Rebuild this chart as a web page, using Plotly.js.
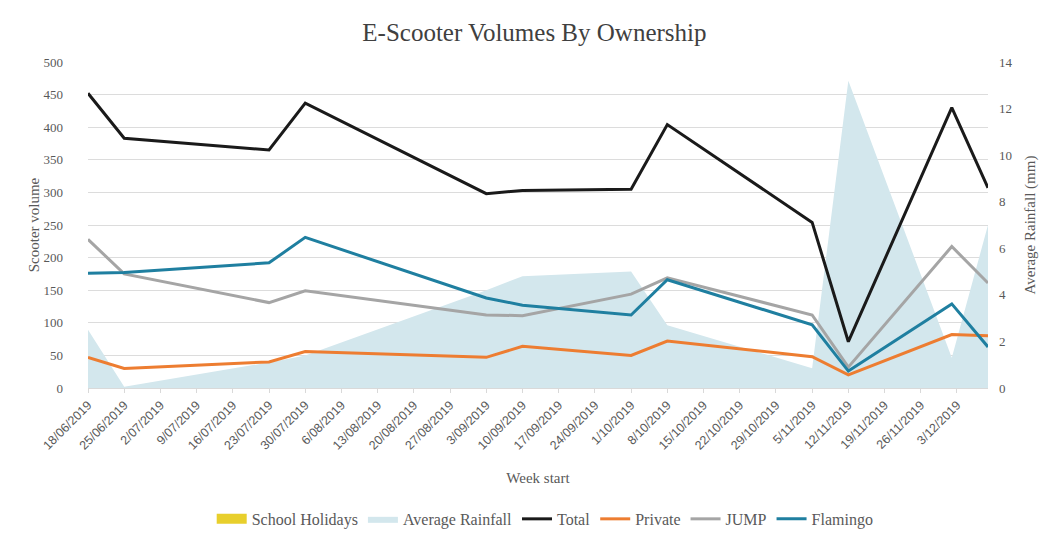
<!DOCTYPE html>
<html><head><meta charset="utf-8">
<script src="https://cdn.plot.ly/plotly-3.0.1.min.js"></script>
<style>html,body{margin:0;padding:0;background:#fff}#chart{width:1052px;height:540px}</style>
</head><body><div id="chart"></div>
<script>
const weeks = ['2019-06-18','2019-06-25','2019-07-23','2019-07-30','2019-09-03','2019-09-10','2019-10-01','2019-10-08','2019-11-05','2019-11-12','2019-12-02','2019-12-09'];
const schoolHolidays = [null,null,null,null,null,null,null,null,null,null,null,null];
const rainfall = [2.5,0.05,1.1,1.4,4.2,4.8,5.0,2.7,0.85,13.2,1.3,7.0];
const total = [452,383,365,437,298,303,305,404,254,71,430,307];
const privateV = [47,30,40,56,47,64,50,72,48,20,82,80];
const jump = [228,175,131,149,112,111,144,169,112,32,217,161];
const flamingo = [176,177,192,231,138,127,112,166,97,26,129,63];

const serif = 'Liberation Serif, DejaVu Serif, serif';
const grey = '#595959';
const traces = [
  {type:'scatter', mode:'lines', name:'School Holidays', x:weeks, y:schoolHolidays, yaxis:'y', xaxis:'x',
   line:{width:10, color:'#e8cf2c'}, hoverinfo:'skip'},
  {type:'scatter', mode:'lines', name:'Average Rainfall', x:weeks, y:rainfall, yaxis:'y', xaxis:'x',
   fill:'tozeroy', fillcolor:'#d3e7ed', line:{width:0, color:'#d3e7ed'}},
  {type:'scatter', mode:'lines', name:'Total', x:weeks, y:total, yaxis:'y2', line:{color:'#1a1a1a', width:3}},
  {type:'scatter', mode:'lines', name:'Private', x:weeks, y:privateV, yaxis:'y2', line:{color:'#ed7d31', width:3}},
  {type:'scatter', mode:'lines', name:'JUMP', x:weeks, y:jump, yaxis:'y2', line:{color:'#a5a5a5', width:3}},
  {type:'scatter', mode:'lines', name:'Flamingo', x:weeks, y:flamingo, yaxis:'y2', line:{color:'#1f7fa0', width:3}}
];
const layout = {
  width:1052, height:540, paper_bgcolor:'#fff', plot_bgcolor:'#fff',
  margin:{l:88, r:64, t:62, b:152, autoexpand:false},
  title:{text:'E-Scooter Volumes By Ownership', x:0.508, xanchor:'center', y:0.94, yanchor:'middle',
         font:{family:serif, size:25, color:'#404040'}},
  showlegend:true,
  legend:{orientation:'h', x:0.508, xanchor:'center', yref:'container', y:0.039, yanchor:'middle',
          font:{family:serif, size:16, color:grey}, traceorder:'normal', itemwidth:30},
  xaxis:{type:'date', range:['2019-06-18','2019-12-09'], tick0:'2019-06-18', dtick:7*86400000,
         tickformat:'%-d/%m/%Y', tickangle:-45, ticks:'outside', ticklen:4, tickcolor:'#d9d9d9',
         showline:true, linecolor:'#d9d9d9', showgrid:false, zeroline:false, automargin:false,
         tickfont:{family:'Liberation Sans, sans-serif', size:12.5, color:grey},
         title:{text:'Week start', font:{family:serif, size:15, color:grey}, standoff:20}},
  yaxis:{side:'right', range:[0,14], dtick:2, showgrid:false, zeroline:false, automargin:false,
         ticklabelstandoff:10, tickfont:{family:serif, size:13, color:grey},
         title:{text:'Average Rainfall (mm)', font:{family:serif, size:15, color:grey}, standoff:12}},
  yaxis2:{overlaying:'y', side:'left', range:[0,500], dtick:50, showgrid:true, gridcolor:'#dcdcdc',
          zeroline:false, automargin:false, ticklabelstandoff:24,
          tickfont:{family:serif, size:13, color:grey},
          title:{text:'Scooter volume', font:{family:serif, size:15, color:grey}, standoff:0}}
};
Plotly.newPlot('chart', traces, layout, {displayModeBar:false, staticPlot:true});
</script></body></html>
